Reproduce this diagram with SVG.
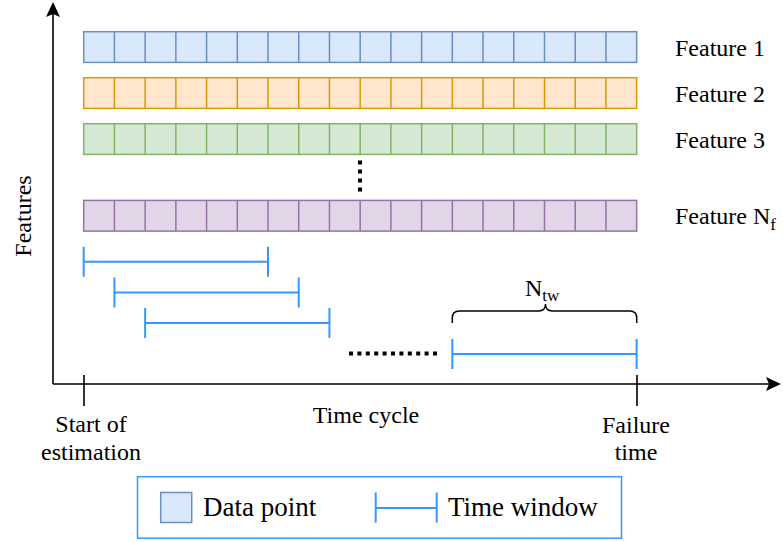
<svg xmlns="http://www.w3.org/2000/svg" xmlns:xlink="http://www.w3.org/1999/xlink" width="783" height="542" viewBox="0 0 783 542">
<style>
text{font-family:"Liberation Serif","Times New Roman",serif;fill:#000;}
.lbl{font-size:24px;}
.leg{font-size:27px;}
.row{stroke-width:1.5;}
.blue{fill:#dae8fc;stroke:#6c8ebf;}
.orange{fill:#ffe6cc;stroke:#d79b00;}
.green{fill:#d5e8d4;stroke:#82b366;}
.purple{fill:#e1d5e7;stroke:#9673a6;}
.win{fill:none;stroke:#3399ff;stroke-width:2;}
.axis{fill:none;stroke:#000;stroke-width:1.6;}
.dots{fill:none;stroke:#000;stroke-width:4;}
</style>
<defs>
<path id="div" d="M114.42,0v30.7M145.14,0v30.7M175.86,0v30.7M206.58,0v30.7M237.3,0v30.7M268.02,0v30.7M298.74,0v30.7M329.46,0v30.7M360.18,0v30.7M390.9,0v30.7M421.62,0v30.7M452.34,0v30.7M483.06,0v30.7M513.78,0v30.7M544.5,0v30.7M575.22,0v30.7M605.94,0v30.7" fill="none"/>
<path id="tw" d="M0,-15v30M0,0h184.3M184.3,-15v30"/>
</defs>

<g id="axes">
<path class="axis" d="M53,384V14M53,384H770"/>
<path d="M53,2L60,17L53,14L46,17Z" fill="#000"/>
<path d="M781,384L766,377L769,384L766,391Z" fill="#000"/>
<path class="axis" d="M84,375V406M637,375V406"/>
</g>

<g id="feature1" class="row blue">
<rect x="83.7" y="31.7" width="552.96" height="30.7"/>
<use xlink:href="#div" href="#div" transform="translate(0,31.7)"/>
</g>
<g id="feature2" class="row orange">
<rect x="83.7" y="77.7" width="552.96" height="30.7"/>
<use xlink:href="#div" href="#div" transform="translate(0,77.7)"/>
</g>
<g id="feature3" class="row green">
<rect x="83.7" y="123.7" width="552.96" height="30.7"/>
<use xlink:href="#div" href="#div" transform="translate(0,123.7)"/>
</g>
<g id="featureNf" class="row purple">
<rect x="83.7" y="200.4" width="552.96" height="30.7"/>
<use xlink:href="#div" href="#div" transform="translate(0,200.4)"/>
</g>

<g id="labels">
<text class="lbl" x="675" y="56">Feature 1</text>
<text class="lbl" x="675" y="102">Feature 2</text>
<text class="lbl" x="675" y="148">Feature 3</text>
<text class="lbl" x="675" y="224">Feature N<tspan font-size="17" dy="6">f</tspan></text>
<text class="lbl" transform="translate(31,216) rotate(-90)" text-anchor="middle">Features</text>
<text class="lbl" x="91" y="432" text-anchor="middle">Start of</text>
<text class="lbl" x="91" y="460" text-anchor="middle">estimation</text>
<text class="lbl" x="366" y="423" text-anchor="middle">Time cycle</text>
<text class="lbl" x="636" y="433" text-anchor="middle">Failure</text>
<text class="lbl" x="636" y="460" text-anchor="middle">time</text>
</g>

<g id="dots">
<path class="dots" d="M360,160.5V192" stroke-dasharray="4 5"/>
<path class="dots" d="M349,353.5H438" stroke-dasharray="4 4.4"/>
</g>

<g id="windows">
<use class="win" xlink:href="#tw" href="#tw" transform="translate(83.7,261.7)"/>
<use class="win" xlink:href="#tw" href="#tw" transform="translate(114.42,292.4)"/>
<use class="win" xlink:href="#tw" href="#tw" transform="translate(145.14,323.1)"/>
<use class="win" xlink:href="#tw" href="#tw" transform="translate(452.34,354)"/>
</g>

<g id="brace">
<path d="M452.3,323V318Q452.3,311 459.3,311H538.5Q545.5,311 545.5,304Q545.5,311 552.5,311H629.7Q636.7,311 636.7,318V323" fill="none" stroke="#000" stroke-width="1.5"/>
<text class="lbl" x="525" y="296">N<tspan font-size="17" dy="5">tw</tspan></text>
</g>

<g id="legend">
<rect x="137.5" y="476.7" width="484" height="61.5" fill="none" stroke="#3399ff" stroke-width="1.5"/>
<rect x="160.7" y="492.5" width="31" height="30" class="blue" stroke-width="1.5"/>
<text class="leg" x="203" y="516">Data point</text>
<path class="win" d="M375.7,492.5v30M375.7,508h61M436.7,492.5v30"/>
<text class="leg" x="448" y="516">Time window</text>
</g>
</svg>
